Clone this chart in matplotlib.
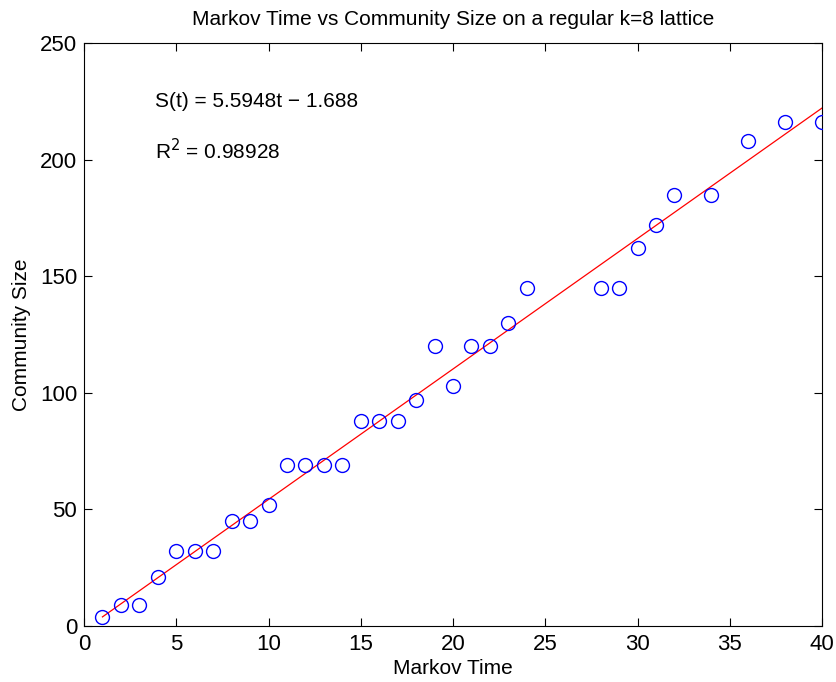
import numpy as np
import matplotlib
matplotlib.use("Agg")
import matplotlib.pyplot as plt

plt.rcParams['font.family'] = ['Liberation Sans', 'DejaVu Sans']

# markov time vs detected community size
markov_time = [1, 2, 3, 4, 5, 6, 7, 8, 9, 10, 11, 12, 13, 14, 15, 16, 17, 18, 19, 20,
               21, 22, 23, 24, 28, 29, 30, 31, 32, 34, 36, 38, 40]
community_size = [4, 9, 9, 21, 32, 32, 32, 45, 45, 52, 69, 69, 69, 69, 88, 88, 88, 97, 120, 103,
                  120, 120, 130, 145, 145, 145, 162, 172, 185, 185, 208, 216, 216]

slope = 5.5948
intercept = -1.688
r_squared = 0.98928

fig = plt.figure(figsize=(8.36, 6.82), dpi=100)
ax = fig.add_axes([84 / 836, 1 - 626 / 682, 738 / 836, 583 / 682])

ax.plot(markov_time, community_size, 'o', markerfacecolor='none',
        markeredgecolor='#0000ff', markersize=10, markeredgewidth=1.0, zorder=3)

t = np.array([markov_time[0], markov_time[-1]])
ax.plot(t, slope * t + intercept, color='#ff0000', linewidth=0.9, zorder=2)

ax.text(3.85, 225, f"S(t) = {slope}t \u2212 {abs(intercept)}", fontsize=15, va='center')
ax.text(3.85, 204, f"R$^2$ = {r_squared}", fontsize=15, va='center')

ax.set_xlim(0, 40)
ax.set_ylim(0, 250)
ax.set_xticks(np.arange(0, 41, 5))
ax.set_yticks(np.arange(0, 251, 50))
ax.tick_params(direction='in', top=True, right=True, labelsize=16, length=6, width=0.8)
ax.tick_params(axis='x', pad=6)
ax.tick_params(axis='y', pad=5)
for s in ax.spines.values():
    s.set_linewidth(0.8)

ax.set_title("Markov Time vs Community Size on a regular k=8 lattice", fontsize=15, pad=13)
ax.set_xlabel("Markov Time", fontsize=15, labelpad=3)
ax.set_ylabel("Community Size", fontsize=15, labelpad=6)

fig.savefig("out.png", dpi=100)
